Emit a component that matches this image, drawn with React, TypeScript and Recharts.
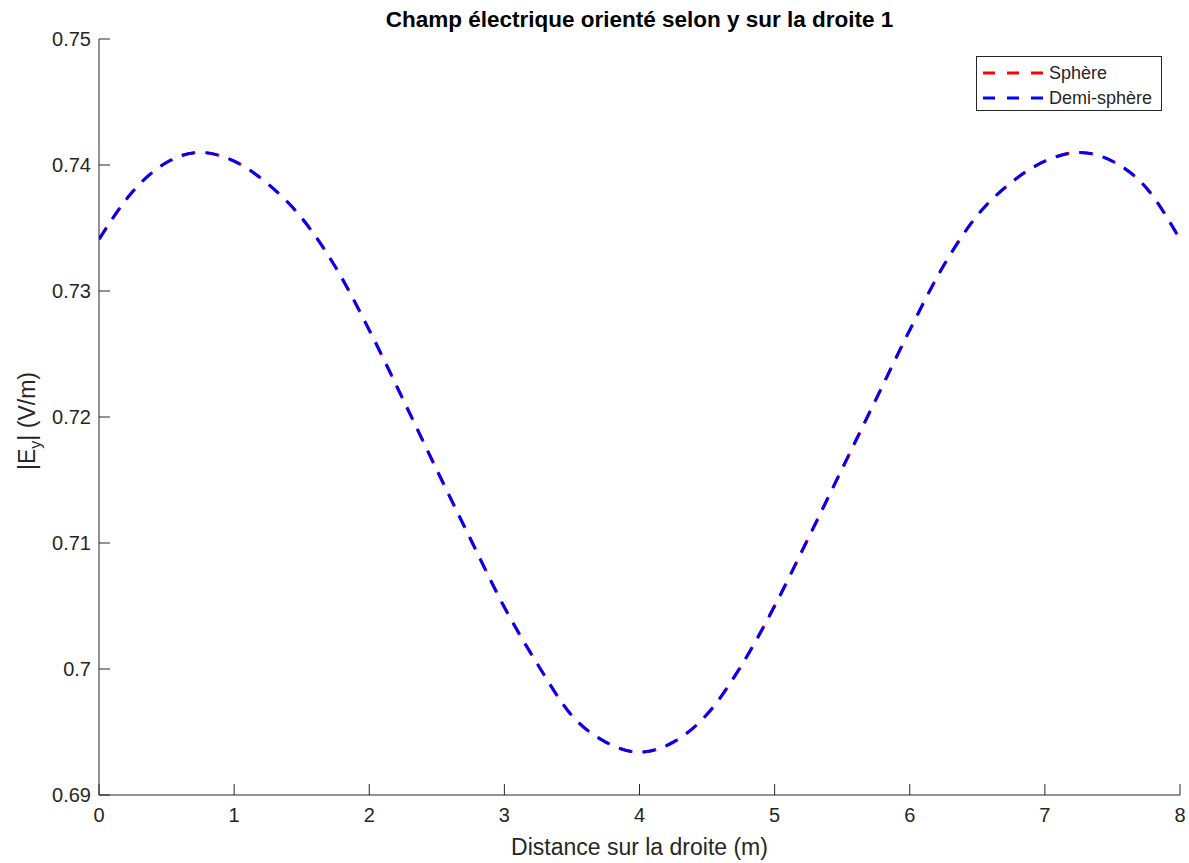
import React from 'react';
import { LineChart, Line, XAxis, YAxis, Legend } from 'recharts';

// distance along line (m)
const distance = [
  0, 0.25, 0.5, 0.75, 1, 1.25, 1.5, 1.75, 2, 2.25, 2.5, 2.75, 3, 3.25, 3.5, 3.75, 4,
  4.25, 4.5, 4.75, 5, 5.25, 5.5, 5.75, 6, 6.25, 6.5, 6.75, 7, 7.25, 7.5, 7.75, 8,
];

// |Ey| for the full sphere (V/m)
const sphere = [
  0.7341, 0.7379, 0.7402, 0.7410, 0.7403, 0.7385, 0.7358, 0.7319, 0.7269, 0.7214,
  0.7158, 0.7103, 0.7049, 0.7003, 0.6963, 0.6942, 0.6934,
  0.6942, 0.6964, 0.7002, 0.7050, 0.7104, 0.7159, 0.7214, 0.7269, 0.7320, 0.7360,
  0.7386, 0.7403, 0.7410, 0.7403, 0.7382, 0.7341,
];

// |Ey| for the half sphere (V/m)
const halfSphere = [
  0.7341, 0.7379, 0.7402, 0.7410, 0.7403, 0.7385, 0.7358, 0.7319, 0.7269, 0.7214,
  0.7158, 0.7103, 0.7049, 0.7003, 0.6963, 0.6942, 0.6934,
  0.6942, 0.6964, 0.7002, 0.7050, 0.7104, 0.7159, 0.7214, 0.7269, 0.7320, 0.7360,
  0.7386, 0.7403, 0.7410, 0.7403, 0.7382, 0.7341,
];

const xTicks = [0, 1, 2, 3, 4, 5, 6, 7, 8];
const yTicks = [0.69, 0.7, 0.71, 0.72, 0.73, 0.74, 0.75];

const seriesNames = ['Sphère', 'Demi-sphère'];

const data = distance.map((d, i) => ({ x: d, sphere: sphere[i], half: halfSphere[i] }));

const FONT = '"Liberation Sans", Arial, Helvetica, sans-serif';
const AXIS = '#262626';
const TICK_LEN = 11;
const X_MARGIN = 13;
const Y_MARGIN = 8;

// ticks drawn pointing into the plot, like matlab
function XTick(props: any) {
  const { x, y, payload } = props;
  const axisY = y - X_MARGIN;
  return (
    <g>
      <line x1={x} x2={x} y1={axisY} y2={axisY - TICK_LEN} stroke={AXIS} strokeWidth={1} />
      <text x={x} y={y} dy="0.71em" textAnchor="middle" fill={AXIS} fontSize={20} fontFamily={FONT}>
        {payload.value}
      </text>
    </g>
  );
}

function YTick(props: any) {
  const { x, y, payload } = props;
  const axisX = x + Y_MARGIN;
  return (
    <g>
      <line x1={axisX} x2={axisX + TICK_LEN} y1={y} y2={y} stroke={AXIS} strokeWidth={1} />
      <text x={x} y={y} dy="0.355em" textAnchor="end" fill={AXIS} fontSize={20} fontFamily={FONT}>
        {String(+Number(payload.value).toFixed(2))}
      </text>
    </g>
  );
}

function LegendBox() {
  const rows = [
    { name: seriesNames[0], color: '#ff0000' },
    { name: seriesNames[1], color: '#0000ff' },
  ];
  return (
    <div
      style={{
        border: `1px solid ${AXIS}`,
        background: '#fff',
        width: 184,
        height: 53,
        boxSizing: 'content-box',
        fontFamily: FONT,
        fontSize: 18,
        color: AXIS,
      }}
    >
      {rows.map((r, i) => (
        <div key={r.name} style={{ display: 'flex', alignItems: 'center', height: 24, marginTop: i === 0 ? 4 : 1 }}>
          <svg width={72} height={24}>
            <line x1={6} y1={12} x2={67} y2={12} stroke={r.color} strokeWidth={3} strokeDasharray="12 12" />
          </svg>
          <span>{r.name}</span>
        </div>
      ))}
    </div>
  );
}

export default function App() {
  return (
    <div style={{ position: 'absolute', left: 0, top: 0, width: 1189, height: 863, background: '#fff' }}>
      <div
        style={{
          position: 'absolute',
          left: 99,
          width: 1081,
          top: 7,
          textAlign: 'center',
          fontFamily: FONT,
          fontWeight: 'bold',
          fontSize: 22.5,
          color: '#000',
        }}
      >
        Champ électrique orienté selon y sur la droite 1
      </div>
      <LineChart
        width={1189}
        height={863}
        data={data}
        margin={{ top: 39, right: 9, left: 39, bottom: 38 }}
        style={{ fontFamily: FONT }}
      >
        <XAxis
          type="number"
          dataKey="x"
          domain={[0, 8]}
          ticks={xTicks}
          height={30}
          stroke={AXIS}
          tickLine={false}
          tickSize={0}
          tickMargin={X_MARGIN}
          tick={<XTick />}
          allowDataOverflow
        />
        <YAxis
          type="number"
          domain={[0.69, 0.75]}
          ticks={yTicks}
          width={60}
          stroke={AXIS}
          tickLine={false}
          tickSize={0}
          tickMargin={Y_MARGIN}
          tick={<YTick />}
          allowDataOverflow
        />
        <Legend
          layout="vertical"
          align="center"
          verticalAlign="middle"
          wrapperStyle={{ left: 976, top: 56, width: 186 }}
          content={() => <LegendBox />}
        />
        <Line
          type="monotone"
          dataKey="sphere"
          name={seriesNames[0]}
          stroke="#ff0000"
          strokeWidth={3}
          strokeDasharray="13 11"
          strokeDashoffset={-1}
          dot={false}
          isAnimationActive={false}
        />
        <Line
          type="monotone"
          dataKey="half"
          name={seriesNames[1]}
          stroke="#0000ff"
          strokeWidth={3}
          strokeDasharray="13 11"
          dot={false}
          isAnimationActive={false}
        />
      </LineChart>
      <div
        style={{
          position: 'absolute',
          left: 99,
          width: 1081,
          top: 834,
          textAlign: 'center',
          fontFamily: FONT,
          fontSize: 23,
          color: AXIS,
        }}
      >
        Distance sur la droite (m)
      </div>
      <svg style={{ position: 'absolute', left: 0, top: 0 }} width={60} height={863}>
        <text
          transform="translate(35, 421) rotate(-90)"
          textAnchor="middle"
          fontFamily={FONT}
          fontSize={23}
          fill={AXIS}
        >
          |E<tspan fontSize={16} dy={6}>y</tspan>
          <tspan dy={-6}>| (V/m)</tspan>
        </text>
      </svg>
    </div>
  );
}
